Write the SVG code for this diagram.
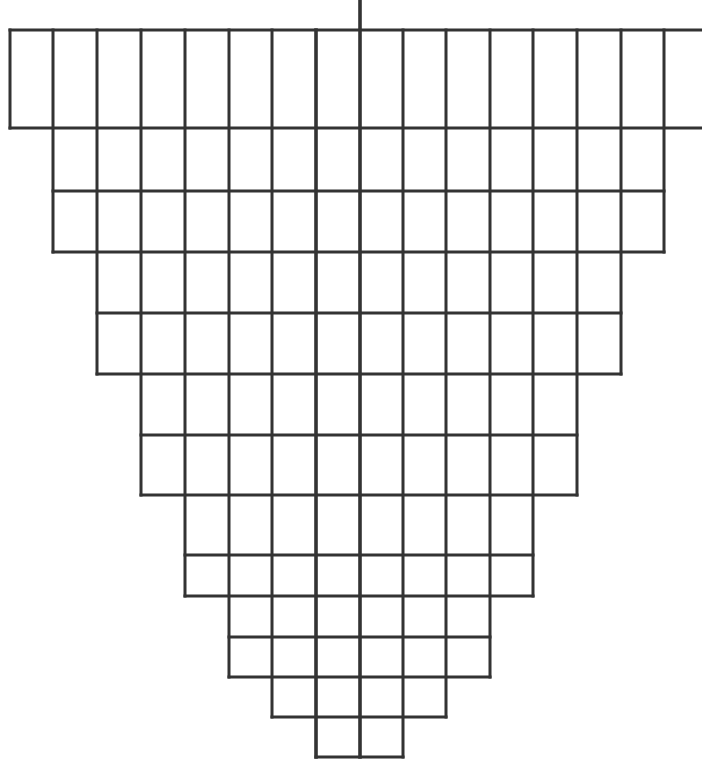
<svg xmlns="http://www.w3.org/2000/svg" width="702" height="761" viewBox="0 0 702 761">
<style>
.g{fill:none;stroke:#333;stroke-width:3;stroke-linecap:square}
.t{fill:none;stroke:#333;stroke-width:3.6;stroke-linecap:square}
</style>
<rect width="702" height="761" fill="#fff"/>
<g id="grid-horizontals" class="g">
<path d="M10 30H702M10 128H702M53 191H664M53 252H664M97 313H621M97 374H621M141 435H577M141 495H577M185 555H533M185 596H533M229 637H490M229 677H490M272 717H446M316 757H403"/>
</g>
<g id="grid-verticals" class="g">
<path d="M10 30V128M53 30V252M97 30V374M141 30V495M185 30V596M229 30V677M272 30V717M403 30V757M446 30V717M490 30V677M533 30V596M577 30V495M621 30V374M664 30V252"/>
</g>
<g id="center-lines" class="t">
<path d="M316 30V757M360 0V757"/>
</g>
</svg>
